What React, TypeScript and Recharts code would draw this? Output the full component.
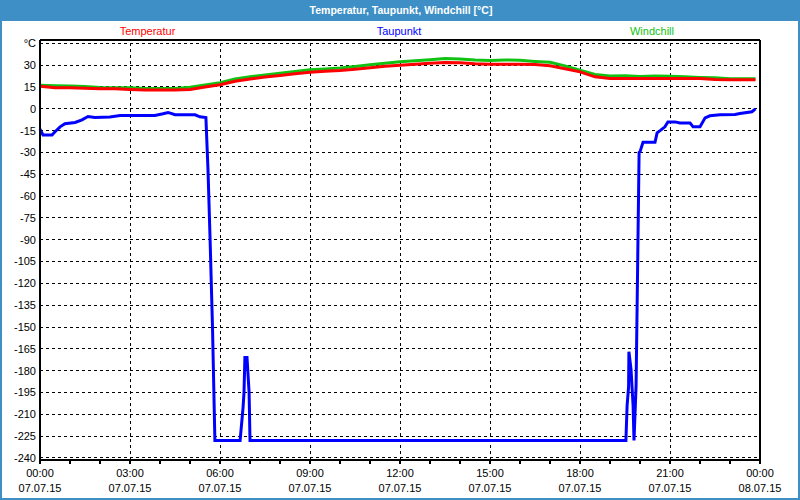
import React from "react";
import {
  LineChart,
  Line,
  XAxis,
  YAxis,
  CartesianGrid,
  ReferenceLine,
} from "recharts";

// hours since 07.07.15 00:00
const hours = [
  0, 0.5, 1, 1.5, 2, 2.5, 3, 3.5, 4, 4.5, 5, 5.5, 6, 6.5, 7, 7.5, 8, 8.5, 9,
  9.5, 10, 10.5, 11, 11.5, 12, 12.5, 13, 13.5, 14, 14.5, 15, 15.5, 16, 16.5, 17,
  17.5, 18, 18.5, 19, 19.5, 20, 20.5, 21, 21.5, 22, 22.5, 23, 23.5, 23.85,
];

const temperatur = [
  15.5, 14.4, 14.4, 14.2, 13.8, 13.8, 13.3, 12.9, 12.9, 12.9, 13.3, 15.0, 16.5,
  19.0, 20.5, 21.8, 22.9, 24.1, 25.2, 25.8, 26.3, 27.2, 28.2, 29.2, 30.0, 30.6,
  31.4, 31.8, 31.6, 31.0, 30.7, 30.7, 30.7, 30.5, 29.6, 27.5, 25.4, 22.0, 20.8,
  20.8, 20.8, 20.8, 20.8, 20.8, 20.8, 20.2, 20.0, 20.0, 20.0,
];

const windchill = [
  16.2, 15.8, 15.6, 15.4, 14.6, 14.4, 14.4, 14.0, 14.0, 14.0, 14.8, 16.3, 18.0,
  20.5, 22.0, 23.3, 24.5, 25.7, 26.8, 27.4, 28.0, 29.1, 30.3, 31.3, 32.3, 33.0,
  33.7, 34.5, 34.2, 33.5, 33.2, 33.5, 33.4, 32.6, 32.0, 29.5, 26.5, 23.6, 22.6,
  22.7, 22.2, 22.5, 22.3, 22.0, 21.6, 21.3, 20.7, 20.6, 20.6,
];

const taupunktHours = [
  0, 0.1, 0.4, 0.5, 0.67, 0.83, 1.17, 1.4, 1.6, 1.83, 2.33, 2.67, 3.83, 4.1,
  4.27, 4.5, 5.17, 5.33, 5.53, 5.6, 5.67, 5.75, 5.83, 6.67, 6.77, 6.8, 6.83,
  6.9, 6.97, 7.0, 19.53, 19.57, 19.62, 19.63, 19.7, 19.77, 19.8, 19.87, 19.97,
  20.0, 20.1, 20.5, 20.57, 20.67, 20.83, 20.93, 21.17, 21.33, 21.67, 21.77,
  22.0, 22.17, 22.33, 22.67, 23.17, 23.33, 23.73, 23.85,
];

const taupunkt = [
  -14, -18, -18, -15.8, -12.4, -10.3, -9.4, -7.6, -5.3, -6, -5.7, -4.6, -4.6,
  -3.4, -2.5, -4.1, -4.1, -5.5, -6, -42, -90, -150, -228, -228, -205, -195,
  -171, -171, -195, -228, -228, -204, -191, -167, -179, -204, -228, -190, -30,
  -29.6, -23, -23, -16.5, -15, -12.4, -9, -9, -9.8, -9.8, -12.4, -12.4, -6.2,
  -4.8, -4.1, -3.9, -3.2, -2, 0,
];

const yTicks = [
  -240, -225, -210, -195, -180, -165, -150, -135, -120, -105, -90, -75, -60,
  -45, -30, -15, 0, 15, 30, 45,
];
const hourTicks = [
  0, 1, 2, 3, 4, 5, 6, 7, 8, 9, 10, 11, 12, 13, 14, 15, 16, 17, 18, 19, 20, 21,
  22, 23, 24,
];
const gridHours = [3, 6, 9, 12, 15, 18, 21];
const timeLabels = [
  "00:00", "03:00", "06:00", "09:00", "12:00", "15:00", "18:00", "21:00", "00:00",
];
const dateLabels = [
  "07.07.15", "07.07.15", "07.07.15", "07.07.15", "07.07.15", "07.07.15",
  "07.07.15", "07.07.15", "08.07.15",
];

const Y_MIN = -241.4;
const Y_MAX = 47.3;
const FONT = "'Liberation Sans', Arial, sans-serif";
const BLUE_BAR = "#3d8fc6";

const tempData = hours.map((h, i) => ({ h, t: temperatur[i], w: windchill[i] }));
const dewData = taupunktHours.map((h, i) => ({ h, d: taupunkt[i] }));

const TimeTick = (props: any) => {
  const { x, y, payload } = props;
  const h = payload.value;
  if (h % 3 !== 0) return <g />;
  const i = h / 3;
  return (
    <text x={x} y={y} textAnchor="middle" fontSize={11} fill="#000" fontFamily={FONT}>
      <tspan x={x} dy={11}>{timeLabels[i]}</tspan>
      <tspan x={x} dy={15}>{dateLabels[i]}</tspan>
    </text>
  );
};

export default function App() {
  return (
    <div
      style={{
        position: "fixed",
        left: 0,
        top: 0,
        width: 800,
        height: 500,
        background: "#fff",
      }}
    >
      <LineChart
        width={800}
        height={500}
        margin={{ top: 40, right: 40, bottom: 0, left: 0 }}
      >
        <CartesianGrid
          vertical={false}
          stroke="#000"
          strokeDasharray="3 3"
          shapeRendering="crispEdges"
        />
        {gridHours.map((g) => (
          <ReferenceLine
            key={g}
            x={g}
            stroke="#000"
            strokeDasharray="3 3"
            shapeRendering="crispEdges"
          />
        ))}
        <XAxis
          dataKey="h"
          type="number"
          domain={[0, 24]}
          ticks={hourTicks}
          interval={0}
          allowDuplicatedCategory={false}
          height={40}
          tickSize={4}
          tickMargin={2}
          stroke="#000"
          strokeWidth={2}
          shapeRendering="crispEdges"
          tick={<TimeTick />}
        />
        <YAxis
          type="number"
          domain={[Y_MIN, Y_MAX]}
          allowDataOverflow
          ticks={yTicks}
          interval={0}
          width={40}
          tickSize={0}
          tickMargin={4}
          stroke="#000"
          strokeWidth={2}
          shapeRendering="crispEdges"
          tick={{ fill: "#000", fontSize: 11, fontFamily: FONT }}
          tickFormatter={(v: number) => (v === 45 ? "°C" : String(v))}
        />
        <ReferenceLine y={Y_MAX} stroke="#000" strokeWidth={2} shapeRendering="crispEdges" />
        <ReferenceLine x={24} stroke="#000" strokeWidth={2} shapeRendering="crispEdges" />
        <Line
          data={dewData}
          dataKey="d"
          type="linear"
          stroke="#0000ff"
          strokeWidth={3}
          dot={false}
          isAnimationActive={false}
        />
        <Line
          data={tempData}
          dataKey="w"
          type="linear"
          stroke="#12c212"
          strokeWidth={3}
          dot={false}
          isAnimationActive={false}
        />
        <Line
          data={tempData}
          dataKey="t"
          type="linear"
          stroke="#ff0000"
          strokeWidth={3}
          dot={false}
          isAnimationActive={false}
        />
      </LineChart>
      <svg
        width={800}
        height={500}
        style={{ position: "absolute", left: 0, top: 0, pointerEvents: "none" }}
      >
        <rect x={0} y={0} width={800} height={21} fill={BLUE_BAR} />
        <rect
          x={1}
          y={1}
          width={798}
          height={498}
          fill="none"
          stroke={BLUE_BAR}
          strokeWidth={2}
        />
        <text
          x={401}
          y={14}
          textAnchor="middle"
          fill="#fff"
          fontWeight="bold"
          fontSize={10.5}
          fontFamily={FONT}
        >
          Temperatur, Taupunkt, Windchill [°C]
        </text>
        <text x={147.5} y={35} textAnchor="middle" fill="#ff0000" fontSize={11} fontFamily={FONT}>
          Temperatur
        </text>
        <text x={399} y={35} textAnchor="middle" fill="#0000ff" fontSize={11} fontFamily={FONT}>
          Taupunkt
        </text>
        <text x={652} y={35} textAnchor="middle" fill="#12c212" fontSize={11} fontFamily={FONT}>
          Windchill
        </text>
      </svg>
    </div>
  );
}
